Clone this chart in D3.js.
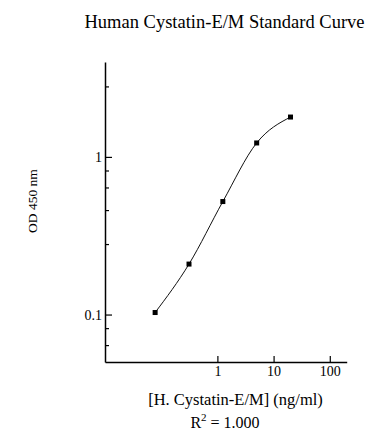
<!DOCTYPE html>
<html>
<head>
<meta charset="utf-8">
<script src="https://cdn.jsdelivr.net/npm/d3@7"></script>
<style>
  body { margin: 0; background: #fff; }
  svg text { font-family: "Liberation Serif", "Times New Roman", serif; fill: #000; }
</style>
</head>
<body>
<svg id="chart"></svg>
<script>
// standard points, 4-fold dilution series
const concentrations = [0.078, 0.3125, 1.25, 5, 20];
const odValues = [0.103, 0.209, 0.521, 1.226, 1.79];

const xTicks = [1, 10, 100];
const yTicks = [0.1, 1];
const yMinorTicks = [0.064, 0.082, 0.28, 0.46, 0.64, 0.82, 2.8];

const width = 388, height = 444;
const svg = d3.select("#chart").attr("width", width).attr("height", height);

const x = d3.scaleLog().domain([0.01, 200]).range([105, 346.7]);
const y = d3.scaleLog().domain([0.05, 4]).range([362, 62]);

// x axis, ticks pointing up into the plot
const xAxis = d3.axisBottom(x)
  .tickValues(xTicks)
  .tickFormat(d3.format("~g"))
  .tickSizeInner(-6)
  .tickSizeOuter(0)
  .tickPadding(4);

svg.append("g")
  .attr("class", "x-axis")
  .attr("transform", `translate(0,${y.range()[0]})`)
  .call(xAxis);

// minor y ticks first, major on top
svg.append("g")
  .attr("transform", `translate(${x.range()[0]},0)`)
  .call(d3.axisLeft(y).tickValues(yMinorTicks).tickFormat("").tickSizeInner(-4).tickSizeOuter(0))
  .call(g => g.select(".domain").remove());

const yAxis = d3.axisLeft(y)
  .tickValues(yTicks)
  .tickFormat(d3.format("~g"))
  .tickSizeInner(-7)
  .tickSizeOuter(0)
  .tickPadding(3);

svg.append("g")
  .attr("class", "y-axis")
  .attr("transform", `translate(${x.range()[0]},0)`)
  .call(yAxis);

svg.selectAll(".x-axis, .y-axis").attr("font-size", 14).attr("font-family", null);
svg.selectAll(".domain").attr("stroke", "#000").attr("stroke-width", 1.5);
svg.selectAll(".tick line").attr("stroke", "#000").attr("stroke-width", 1.2);
svg.selectAll(".tick text").attr("fill", "#000");

// fitted curve through the standards
const points = concentrations.map((c, i) => [x(c), y(odValues[i])]);

svg.append("path")
  .datum(points)
  .attr("fill", "none")
  .attr("stroke", "#111")
  .attr("stroke-width", 1)
  .attr("d", d3.line().curve(d3.curveMonotoneX));

svg.selectAll("rect.pt")
  .data(points)
  .enter()
  .append("rect")
  .attr("class", "pt")
  .attr("x", d => d[0] - 2.5)
  .attr("y", d => d[1] - 2.5)
  .attr("width", 5)
  .attr("height", 5)
  .attr("fill", "#000");

// titles
svg.append("text")
  .attr("x", 224.5)
  .attr("y", 28)
  .attr("text-anchor", "middle")
  .style("font-size", "18.5px")
  .text("Human Cystatin-E/M Standard Curve");

svg.append("text")
  .attr("transform", "translate(37,201) rotate(-90)")
  .attr("text-anchor", "middle")
  .style("font-size", "13.5px")
  .attr("fill", "#333")
  .text("OD 450 nm");

svg.append("text")
  .attr("x", 235.5)
  .attr("y", 405)
  .attr("text-anchor", "middle")
  .style("font-size", "16.5px")
  .text("[H. Cystatin-E/M] (ng/ml)");

const r2 = svg.append("text")
  .attr("x", 225)
  .attr("y", 428)
  .attr("text-anchor", "middle")
  .style("font-size", "16px");
r2.append("tspan").text("R");
r2.append("tspan").attr("dy", -7).style("font-size", "11px").text("2");
r2.append("tspan").attr("dy", 7).text(" = 1.000");
</script>
</body>
</html>
